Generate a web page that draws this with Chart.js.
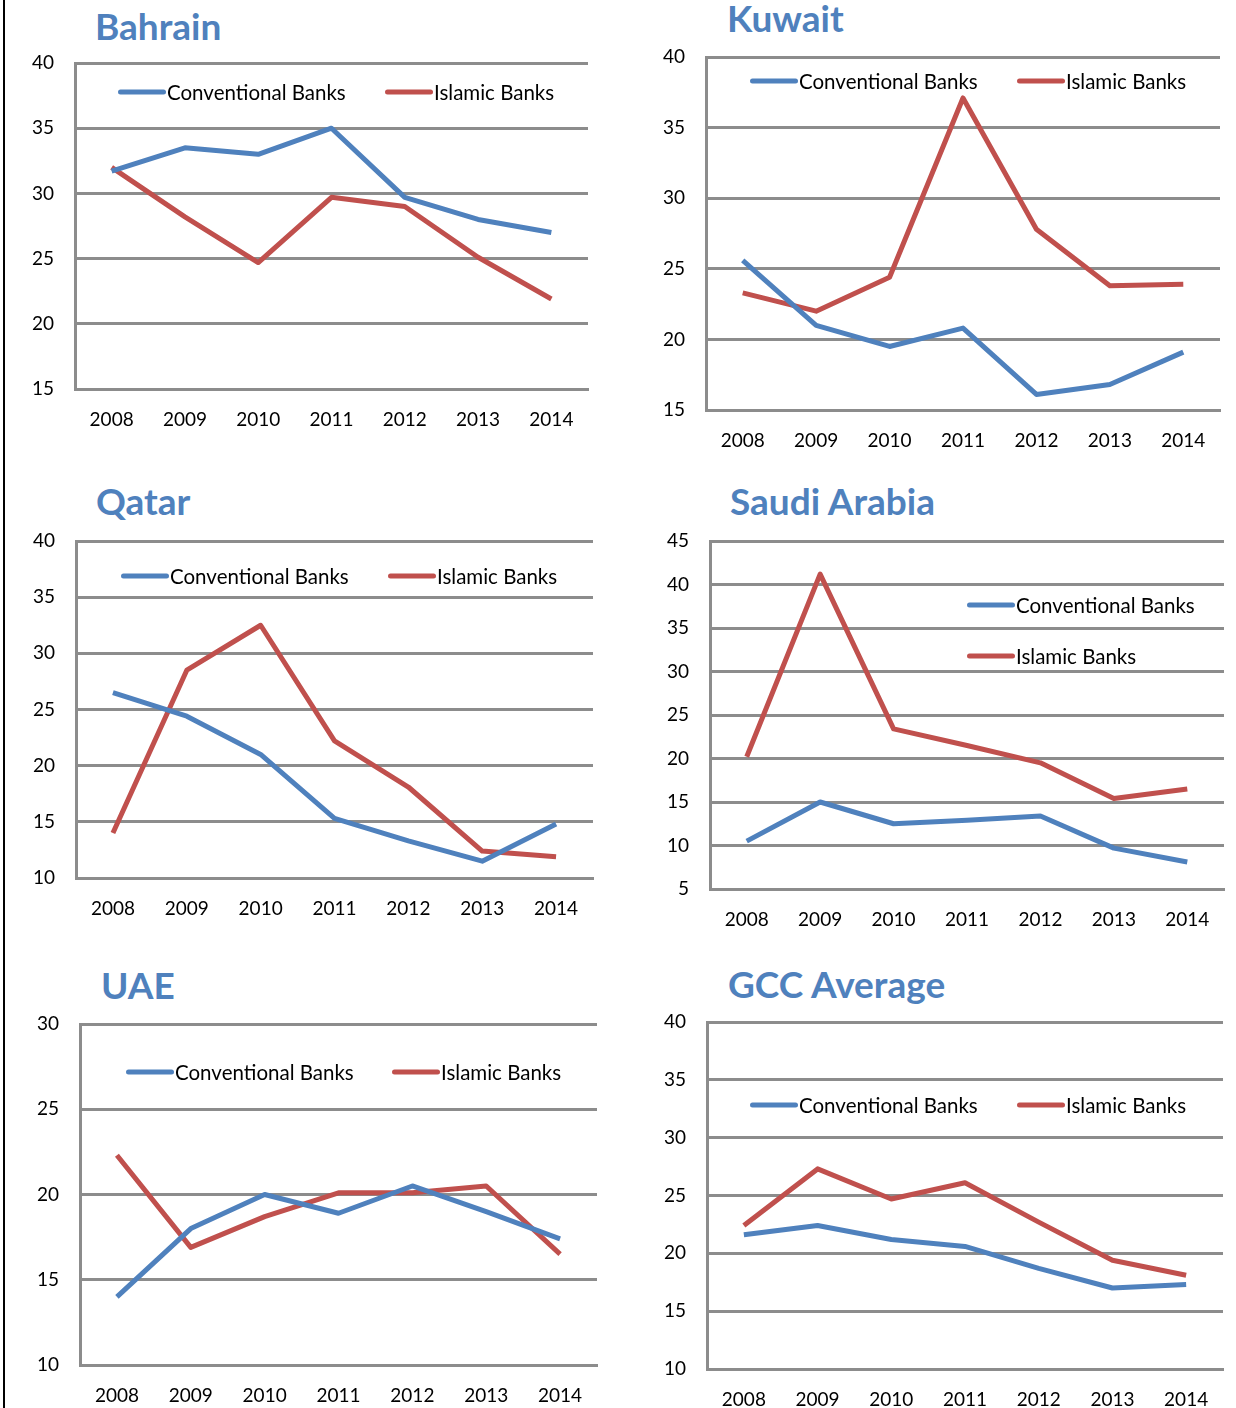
<!DOCTYPE html>
<html><head><meta charset="utf-8">
<script src="https://cdn.jsdelivr.net/npm/chart.js@4.4.0/dist/chart.umd.min.js"></script>
<style>
html,body{margin:0;padding:0;background:#fff;}
#page{position:relative;width:1236px;height:1408px;overflow:hidden;font-family:Lato,"Open Sans",sans-serif;}
#vline{position:absolute;left:3px;top:0;width:2px;height:1408px;background:#000;}
canvas{position:absolute;}
.title{position:absolute;color:#4F81BD;font-weight:bold;font-size:37px;line-height:1;white-space:nowrap;}
.lg{position:absolute;font-size:20.5px;color:#000;white-space:nowrap;line-height:1;transform:translateY(-50%);}
.lgl{position:absolute;height:5px;border-radius:3px;transform:translateY(-50%);}
</style></head>
<body><div id="page"><div id="vline"></div></div>
<script>
const years = ['2008','2009','2010','2011','2012','2013','2014'];
const seriesNames = ['Conventional Banks','Islamic Banks'];
const chartTitles = ['Bahrain','Kuwait','Qatar','Saudi Arabia','UAE','GCC Average'];

const bahrainConv = [31.7,33.5,33.0,35.0,29.7,28.0,27.0];
const bahrainIslamic = [32.0,28.2,24.7,29.7,29.0,25.1,21.9];
const kuwaitConv = [25.6,21.0,19.5,20.8,16.1,16.8,19.1];
const kuwaitIslamic = [23.3,22.0,24.4,37.1,27.8,23.8,23.9];
const qatarConv = [26.5,24.4,21.0,15.3,13.3,11.5,14.8];
const qatarIslamic = [14.0,28.5,32.5,22.2,18.1,12.4,11.9];
const saudiConv = [10.5,15.0,12.5,12.9,13.4,9.7,8.1];
const saudiIslamic = [20.2,41.2,23.4,21.5,19.5,15.4,16.5];
const uaeConv = [14.0,18.0,20.0,18.9,20.5,19.0,17.4];
const uaeIslamic = [22.3,16.9,18.7,20.1,20.1,20.5,16.5];
const gccConv = [21.6,22.4,21.2,20.6,18.7,17.0,17.3];
const gccIslamic = [22.4,27.3,24.7,26.1,22.7,19.4,18.1];

const yMins = [15,15,10,5,10,10];
const yMaxs = [40,40,40,45,30,40];

const BLUE = '#4F81BD', RED = '#C0504D', GRID = '#8C8C8C';

// layout (plot boxes, title & legend positions)
const boxes = [
  {l:75,t:63,r:588,b:389, tx:95,ty:7, lg:[[118,92],[385,92]]},
  {l:706,t:57,r:1220,b:410, tx:727,ty:-1, lg:[[750,81],[1017,81]]},
  {l:76,t:541,r:593,b:878, tx:96,ty:482, lg:[[121,576],[388,576]]},
  {l:710,t:541,r:1224,b:889, tx:730,ty:482, lg:[[967,605],[967,656]]},
  {l:80,t:1024,r:597,b:1365, tx:101,ty:966, lg:[[126,1072],[392,1072]]},
  {l:707,t:1022,r:1223,b:1369, tx:728,ty:965, lg:[[750,1105],[1017,1105]]}
];
const dataSets = [
  [bahrainConv,bahrainIslamic],[kuwaitConv,kuwaitIslamic],[qatarConv,qatarIslamic],
  [saudiConv,saudiIslamic],[uaeConv,uaeIslamic],[gccConv,gccIslamic]
];

const page = document.getElementById('page');
const AXW = 70, AXH = 50, PT = 14, PR = 4;

boxes.forEach((bx, i) => {
  const t = document.createElement('div');
  t.className = 'title'; t.textContent = chartTitles[i];
  t.style.left = bx.tx + 'px'; t.style.top = bx.ty + 'px';
  page.appendChild(t);

  const cv = document.createElement('canvas');
  const w = bx.r - bx.l + AXW + PR, h = bx.b - bx.t + PT + AXH;
  cv.width = w; cv.height = h;
  cv.style.left = (bx.l - AXW) + 'px'; cv.style.top = (bx.t - PT) + 'px';
  cv.style.width = w + 'px'; cv.style.height = h + 'px';
  page.appendChild(cv);

  new Chart(cv.getContext('2d'), {
    type: 'line',
    data: {
      labels: years,
      datasets: [
        {label: seriesNames[0], data: dataSets[i][0], borderColor: BLUE, backgroundColor: BLUE},
        {label: seriesNames[1], data: dataSets[i][1], borderColor: RED, backgroundColor: RED}
      ]
    },
    options: {
      responsive: false, animation: false, devicePixelRatio: 1,
      layout: {padding: {top: PT, right: PR, left: 0, bottom: 0}},
      elements: {
        line: {borderWidth: 5, tension: 0, borderCapStyle: 'butt', borderJoinStyle: 'round'},
        point: {radius: 0, hoverRadius: 0}
      },
      plugins: {legend: {display: false}, title: {display: false}, tooltip: {enabled: false}},
      scales: {
        x: {
          type: 'category', offset: true,
          grid: {display: false, drawTicks: false},
          border: {display: true, color: GRID, width: 3},
          ticks: {color: '#000', padding: 19, font: {family: 'Lato', size: 19}, maxRotation: 0},
          afterFit: s => { s.height = AXH; s.paddingLeft = 0; s.paddingRight = 0; }
        },
        y: {
          min: yMins[i], max: yMaxs[i],
          grid: {color: GRID, lineWidth: 3, drawTicks: false},
          border: {display: true, color: GRID, width: 3},
          ticks: {stepSize: 5, color: '#000', padding: 21, font: {family: 'Lato', size: 19}},
          afterFit: s => { s.width = AXW; s.paddingTop = 0; s.paddingBottom = 0; }
        }
      }
    }
  });

  [BLUE, RED].forEach((c, k) => {
    const [lx, ly] = bx.lg[k];
    const ln = document.createElement('div');
    ln.className = 'lgl'; ln.style.background = c;
    ln.style.left = lx + 'px'; ln.style.top = ly + 'px'; ln.style.width = '48px';
    page.appendChild(ln);
    const tx = document.createElement('div');
    tx.className = 'lg'; tx.textContent = seriesNames[k];
    tx.style.left = (lx + 49) + 'px'; tx.style.top = (ly) + 'px';
    page.appendChild(tx);
  });
});
</script></body></html>
